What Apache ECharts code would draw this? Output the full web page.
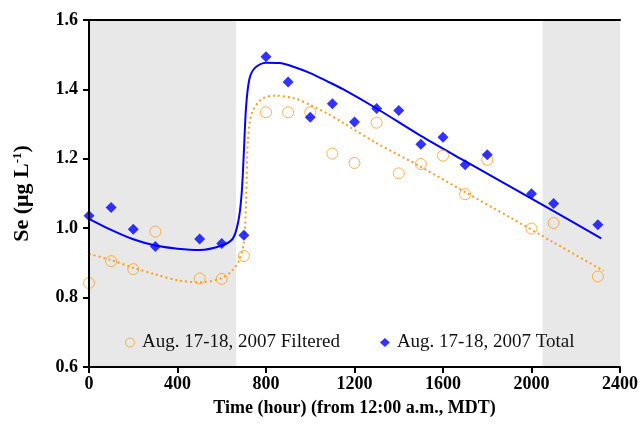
<!DOCTYPE html>
<html>
<head>
<meta charset="UTF-8">
<title>Se time series</title>
<style type="text/css">
	html, body { margin: 0; padding: 0; background: #fff; }
	#main { width: 641px; height: 428px; }
</style>
<script src="https://cdn.jsdelivr.net/npm/echarts@6/dist/echarts.min.js"></script>
</head>
<body>
<div id="main"></div>
<script>
	// measured points (time in hour, Se in ug/L)
	var filteredPts = [
		[0, 0.842], [100, 0.905], [200, 0.882], [300, 0.990], [500, 0.855], [600, 0.854],
		[700, 0.920], [800, 1.334], [900, 1.334], [1000, 1.334], [1100, 1.215], [1200, 1.188],
		[1300, 1.304], [1400, 1.158], [1500, 1.185], [1600, 1.209], [1700, 1.098], [1800, 1.197],
		[2000, 0.999], [2100, 1.015], [2300, 0.861]
	];
	var totalPts = [
		[0, 1.036], [100, 1.060], [200, 0.997], [300, 0.947], [500, 0.969], [600, 0.956],
		[700, 0.980], [800, 1.494], [900, 1.421], [1000, 1.320], [1100, 1.359], [1200, 1.306],
		[1300, 1.345], [1400, 1.339], [1500, 1.242], [1600, 1.262], [1700, 1.183], [1800, 1.212],
		[2000, 1.099], [2100, 1.071], [2300, 1.010]
	];

	// fitted curves
	var filteredFit = [
		[0, 0.926], [100, 0.908], [200, 0.886], [300, 0.867], [400, 0.850], [500, 0.844],
		[600, 0.856], [650, 0.880], [680, 0.910], [700, 0.960], [710, 1.080], [718, 1.250],
		[735, 1.330], [780, 1.372], [840, 1.382], [930, 1.374], [1000, 1.355], [1075, 1.331],
		[1150, 1.303], [1300, 1.245], [1500, 1.177], [1700, 1.104], [1900, 1.032], [2100, 0.959],
		[2326, 0.877]
	];
	var totalFit = [
		[0, 1.027], [100, 0.995], [200, 0.968], [300, 0.950], [400, 0.941], [500, 0.937],
		[600, 0.950], [650, 0.970], [675, 1.020], [690, 1.100], [700, 1.220], [710, 1.350],
		[725, 1.430], [750, 1.462], [800, 1.477], [860, 1.476], [930, 1.464], [1000, 1.447],
		[1075, 1.424], [1150, 1.400], [1300, 1.345], [1500, 1.266], [1700, 1.193], [1900, 1.121],
		[2100, 1.049], [2315, 0.971]
	];

	// night periods (shaded)
	var nightBands = [[0, 665], [2050, 2400]];

	var xTicks = [0, 2400, 400];
	var yTicks = [0.6, 1.6, 0.2];

	var chart = echarts.init(document.getElementById('main'));

	var orange = '#ff9c1a';
	var blue = '#0000ff';
	var font = 'Liberation Serif';

	// plain frame line for top / right sides
	var frameAxis = {
		type: 'value', show: true, z: 10,
		axisLine: { show: true, lineStyle: { color: '#000', width: 2 } },
		axisTick: { show: false }, axisLabel: { show: false }, splitLine: { show: false }
	};

	var option = {
		animation: false,
		textStyle: { fontFamily: font },
		grid: {
			left: 89, right: 18, top: 20, bottom: 61,
			show: false
		},
		legend: {
			left: 120, top: 328,
			itemGap: 40, itemWidth: 10, itemHeight: 9,
			textStyle: { fontFamily: font, fontSize: 19, color: '#111', padding: [0, 0, 0, 2] },
			data: [
				{ name: 'Aug. 17-18, 2007 Filtered', icon: 'circle', itemStyle: { color: 'transparent', borderColor: orange, borderWidth: 1 } },
				{ name: 'Aug. 17-18, 2007 Total', icon: 'diamond' }
			]
		},
		xAxis: [{
			type: 'value', min: xTicks[0], max: xTicks[1], interval: xTicks[2], z: 10,
			name: 'Time (hour) (from 12:00 a.m., MDT)',
			nameLocation: 'middle', nameGap: 32,
			nameTextStyle: { fontFamily: font, fontSize: 18, fontWeight: 'bold', color: '#000' },
			axisLine: { lineStyle: { color: '#000', width: 2 } },
			axisTick: { show: true, length: 6, lineStyle: { color: '#000', width: 2 } },
			axisLabel: {
				fontFamily: font, fontSize: 18, fontWeight: 'bold', color: '#000', margin: 8,
				formatter: function (v) { return String(v); }
			},
			splitLine: { show: false }
		}, Object.assign({ position: 'top', min: xTicks[0], max: xTicks[1] }, frameAxis)],
		yAxis: [{
			type: 'value', min: yTicks[0], max: yTicks[1], interval: yTicks[2], z: 10,
			name: '{a|Se (\u03bcg L}{s|-1}{a|)}',
			nameLocation: 'middle', nameGap: 55, nameRotate: 90,
			nameTextStyle: {
				rich: {
					a: { fontFamily: font, fontSize: 22, fontWeight: 'bold', color: '#000' },
					s: { fontFamily: font, fontSize: 13, fontWeight: 'bold', color: '#000', verticalAlign: 'top', padding: [0, 0, 10, 0] }
				}
			},
			axisLine: { show: true, lineStyle: { color: '#000', width: 2 } },
			axisTick: { show: true, length: 6, lineStyle: { color: '#000', width: 2 } },
			axisLabel: {
				fontFamily: font, fontSize: 18, fontWeight: 'bold', color: '#000', margin: 11,
				formatter: function (v) { return v.toFixed(1); }
			},
			splitLine: { show: false }
		}, Object.assign({ position: 'right', min: yTicks[0], max: yTicks[1] }, frameAxis)],
		series: [
			{
				name: 'bands', type: 'line', data: [], silent: true,
				markArea: {
					silent: true,
					itemStyle: { color: '#e8e8e8' },
					data: nightBands.map(function (b) { return [{ xAxis: b[0] }, { xAxis: b[1] }]; })
				}
			},
			{
				name: 'filteredFit', type: 'line', data: filteredFit, smooth: 0.3,
				symbol: 'none', lineStyle: { color: orange, width: 2, type: [2, 3] }, z: 3
			},
			{
				name: 'totalFit', type: 'line', data: totalFit, smooth: 0.3,
				symbol: 'none', lineStyle: { color: blue, width: 2 }, z: 3
			},
			{
				name: 'Aug. 17-18, 2007 Filtered', type: 'scatter', data: filteredPts,
				symbol: 'circle', symbolSize: 11,
				itemStyle: { color: 'transparent', borderColor: orange, borderWidth: 1 }, z: 4
			},
			{
				name: 'Aug. 17-18, 2007 Total', type: 'scatter', data: totalPts,
				symbol: 'diamond', symbolSize: 11,
				itemStyle: { color: blue }, z: 5
			}
		]
	};

	chart.setOption(option);
</script>
</body>
</html>
